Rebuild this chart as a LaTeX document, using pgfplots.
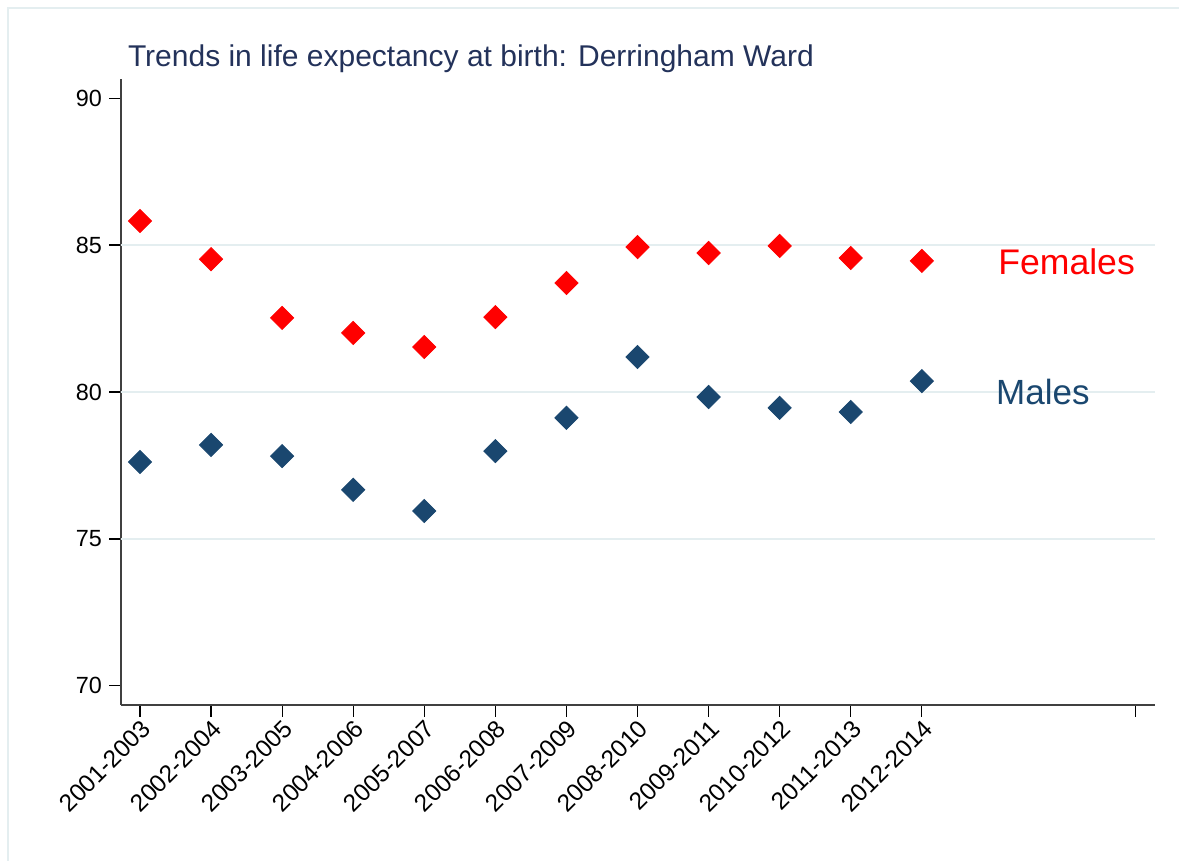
\documentclass[border=0pt]{standalone}
\usepackage{pgfplots}
\pgfplotsset{compat=1.18}
\usepackage{fontspec}
\setmainfont{Liberation Sans}
\definecolor{fem}{RGB}{255,0,0}
\definecolor{mal}{RGB}{26,71,111}
\definecolor{ttl}{RGB}{35,50,90}
\definecolor{grd}{RGB}{228,238,240}
\definecolor{axc}{RGB}{64,64,64}
\begin{document}
\begin{tikzpicture}
\path[use as bounding box] (0,0) rectangle (589.5pt,-430.5pt);
\draw[grd, line width=1pt] (4pt,-430.5pt) -- (4pt,-4pt) -- (589.5pt,-4pt);
\node[anchor=base west, text=ttl, font=\fontsize{15}{17}\selectfont, inner sep=0pt] at (63.8pt,-33.3pt) {Trends in life expectancy at birth: Derringham Ward};
\begin{axis}[
  at={(60.5pt,-352.35pt)}, anchor=south west,
  scale only axis, width=517pt, height=312.85pt,
  xmin=-0.267, xmax=14.28, ymin=69.36, ymax=90.65,
  axis x line*=bottom, axis y line*=left,
  axis line style={axc, line width=0.9pt},
  tick align=outside,
  major tick length=6pt,
  tick style={black, line width=0.6pt},
  xtick={0,1,2,3,4,5,6,7,8,9,10,11,14},
  xticklabels={2001-2003,2002-2004,2003-2005,2004-2006,2005-2007,2006-2008,2007-2009,2008-2010,2009-2011,2010-2012,2011-2013,2012-2014,{}},
  x tick label style={rotate=45, anchor=north east, inner sep=0.5pt, font=\fontsize{12.2}{14}\selectfont},
  ytick={70,75,80,85,90},
  extra y ticks={75,80,85},
  extra y tick labels={},
  extra y tick style={grid=major, major tick length=0pt},
  grid style={grd, line width=1pt},
  y tick label style={font=\fontsize{11.7}{13}\selectfont},
  /pgf/number format/assume math mode=true,
  clip=false,
]
\addplot[only marks, mark=square*, mark size=4.1pt, mark options={rotate=45, fill=fem, draw=fem}] coordinates {
(0,85.82) (1,84.52) (2,82.52) (3,82.01) (4,81.53) (5,82.55) (6,83.71) (7,84.93) (8,84.73) (9,84.97) (10,84.56) (11,84.46)
};
\addplot[only marks, mark=square*, mark size=4.1pt, mark options={rotate=45, fill=mal, draw=mal}] coordinates {
(0,77.62) (1,78.20) (2,77.82) (3,76.67) (4,75.95) (5,77.99) (6,79.12) (7,81.19) (8,79.83) (9,79.46) (10,79.32) (11,80.37)
};
\node[anchor=base west, text=fem, font=\fontsize{17.8}{20}\selectfont, inner sep=0pt] at (axis cs:12.07,84.01) {Females};
\node[anchor=base west, text=mal, font=\fontsize{17.5}{20}\selectfont, inner sep=0pt] at (axis cs:12.04,79.56) {Males};
\end{axis}
\end{tikzpicture}
\end{document}
